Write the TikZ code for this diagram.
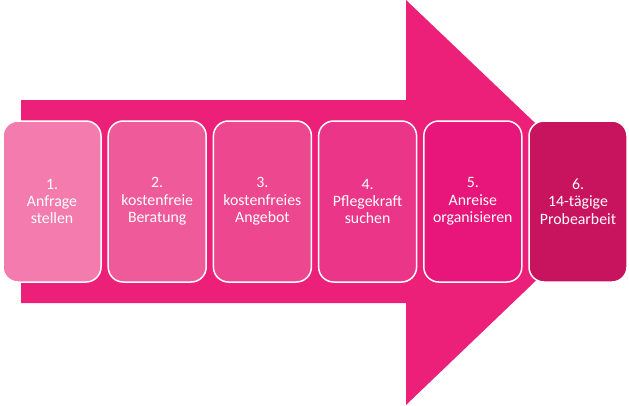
\documentclass[tikz,border=0pt]{standalone}
\usepackage{fontspec}
\setmainfont{Carlito}
\usepackage{xcolor}
\usepackage{tikz}
\usetikzlibrary{positioning}
\definecolor{arrowbg}{HTML}{EC2079}
\definecolor{stepa}{HTML}{F37BAE}
\definecolor{stepb}{HTML}{EF5A9A}
\definecolor{stepc}{HTML}{ED4790}
\definecolor{stepd}{HTML}{EB3588}
\definecolor{stepe}{HTML}{E8167A}
\definecolor{stepf}{HTML}{C8135F}
\tikzset{
  phase/.style={rectangle, rounded corners=15pt, draw=white, line width=1.5pt,
                minimum width=98pt, minimum height=161pt, align=center,
                text=white, inner sep=2pt,
                font=\fontsize{15.8}{17.3}\selectfont},
}

\begin{document}
\begin{tikzpicture}[x=1pt, y=-1pt, node distance=5.7pt]
  \useasboundingbox (0,0) rectangle (629,405);
  % ---- big arrow behind the steps ----
  \fill[arrowbg] (21,100) -- (406,100) -- (406,0) -- (618,202)
    -- (406,405) -- (406,303) -- (21,303) -- cycle;

  % ---- the six steps ----
  \node[phase, fill=stepa] (p1) at (52,201.5) {1.\\Anfrage\\stellen};
  \node[phase, fill=stepb, right=of p1] (p2) {2.\\kostenfreie\\Beratung};
  \node[phase, fill=stepc, right=of p2] (p3) {3.\\kostenfreies\\Angebot};
  \node[phase, fill=stepd, right=of p3] (p4) {4.\\Pflegekraft\\suchen};
  \node[phase, fill=stepe, right=of p4] (p5) {5.\\Anreise\\organisieren};
  \node[phase, fill=stepf, right=of p5] (p6) {6.\\14-tägige\\Probearbeit};
\end{tikzpicture}
\end{document}
